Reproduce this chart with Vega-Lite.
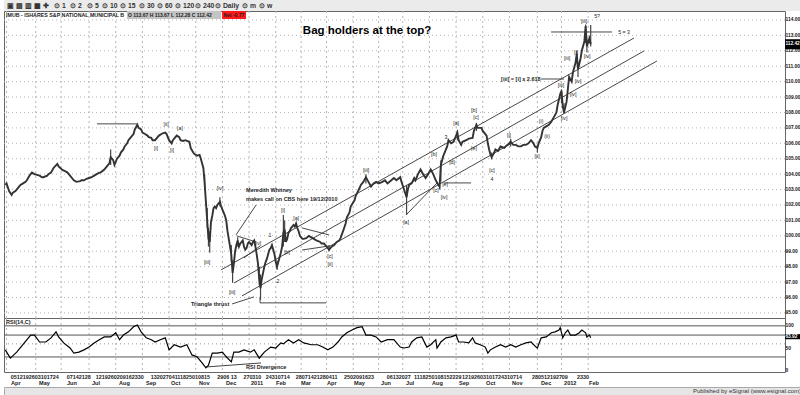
{
"$schema": "https://vega.github.io/schema/vega-lite/v6.json",
"padding": 0,
"spacing": 0,
"bounds": "flush",
"background": "white",
"config": {"view": {"stroke": null}, "text": {"font": "Liberation Sans"}, "axis": {"labelFont": "Liberation Sans"}},
"datasets": {
"toolbar": [{"pos":3,"t":"▣ ▤ ▥ ▦ ✚"},{"pos":50,"t":"⊙ 1"},{"pos":66,"t":"⊙ 2"},{"pos":83,"t":"⊙ 5"},{"pos":98,"t":"⊙ 10"},{"pos":116,"t":"⊙ 15"},{"pos":135,"t":"⊙ 30"},{"pos":153,"t":"⊙ 60"},{"pos":171,"t":"⊙ 120"},{"pos":191,"t":"⊙ 240"},{"pos":211,"t":"⊙ Daily"},{"pos":238,"t":"⊙ m"},{"pos":255,"t":"⊙ w"}],
"hgrid": [{"p":95},{"p":96},{"p":97},{"p":98},{"p":99},{"p":100},{"p":101},{"p":102},{"p":103},{"p":104},{"p":105},{"p":106},{"p":107},{"p":108},{"p":109},{"p":110},{"p":111},{"p":112},{"p":113},{"p":114}],
"vgrid": [{"d":2},{"d":25},{"d":45},{"d":67},{"d":88},{"d":109},{"d":130},{"d":151},{"d":172},{"d":193},{"d":214},{"d":234},{"d":254},{"d":275},{"d":295},{"d":314},{"d":335},{"d":356},{"d":377},{"d":398},{"d":420},{"d":439},{"d":460}],
"price": [{"d":1,"p":103.3},{"d":2,"p":103.4},{"d":4,"p":102.9},{"d":6,"p":102.65},{"d":7,"p":102.8},{"d":9,"p":102.9},{"d":10,"p":103.0},{"d":12,"p":103.2},{"d":13,"p":103.3},{"d":15,"p":103.4},{"d":17,"p":103.5},{"d":18,"p":103.6},{"d":20,"p":103.9},{"d":21,"p":104.0},{"d":22,"p":104.1},{"d":24,"p":104.0},{"d":26,"p":103.95},{"d":28,"p":103.9},{"d":30,"p":103.8},{"d":31,"p":103.8},{"d":34,"p":103.9},{"d":35,"p":104.0},{"d":37,"p":104.1},{"d":39,"p":104.4},{"d":42,"p":104.66},{"d":43,"p":104.5},{"d":46,"p":104.27},{"d":48,"p":104.2},{"d":50,"p":104.1},{"d":52,"p":103.9},{"d":54,"p":103.7},{"d":55,"p":103.6},{"d":57,"p":103.5},{"d":60,"p":103.55},{"d":61,"p":103.6},{"d":63,"p":103.6},{"d":65,"p":103.7},{"d":67,"p":103.75},{"d":69,"p":103.8},{"d":71,"p":103.9},{"d":73,"p":104.0},{"d":75,"p":104.1},{"d":76,"p":104.1},{"d":79,"p":104.3},{"d":81,"p":104.5},{"d":83,"p":104.7},{"d":84,"p":105.1},{"d":86,"p":104.9},{"d":87,"p":104.6},{"d":89,"p":105.0},{"d":91,"p":105.2},{"d":92,"p":105.4},{"d":94,"p":105.6},{"d":95,"p":105.8},{"d":97,"p":106.0},{"d":98,"p":106.2},{"d":100,"p":106.4},{"d":102,"p":106.6},{"d":103,"p":106.9},{"d":105,"p":107.2},{"d":106,"p":107.0},{"d":108,"p":106.9},{"d":109,"p":106.7},{"d":111,"p":106.6},{"d":113,"p":106.5},{"d":114,"p":106.4},{"d":116,"p":106.35},{"d":117,"p":106.2},{"d":119,"p":106.2},{"d":120,"p":106.3},{"d":122,"p":106.5},{"d":124,"p":106.6},{"d":125,"p":106.65},{"d":127,"p":106.7},{"d":128,"p":106.6},{"d":130,"p":106.2},{"d":132,"p":106.0},{"d":133,"p":106.2},{"d":135,"p":106.4},{"d":136,"p":106.5},{"d":138,"p":106.4},{"d":139,"p":106.2},{"d":141,"p":106.15},{"d":143,"p":106.2},{"d":144,"p":106.15},{"d":146,"p":106.1},{"d":147,"p":105.7},{"d":149,"p":105.4},{"d":150,"p":105.3},{"d":152,"p":105.2},{"d":154,"p":105.25},{"d":155,"p":105.0},{"d":157,"p":104.4},{"d":158,"p":103.4},{"d":159,"p":102.2},{"d":160,"p":101.0},{"d":161,"p":99.8},{"d":162,"p":99.6},{"d":163,"p":100.9},{"d":164,"p":101.3},{"d":165,"p":101.8},{"d":166,"p":101.9},{"d":167,"p":101.8},{"d":168,"p":102.0},{"d":169,"p":102.1},{"d":170,"p":102.2},{"d":171,"p":101.9},{"d":172,"p":101.7},{"d":173,"p":101.5},{"d":174,"p":101.3},{"d":175,"p":101.0},{"d":176,"p":100.3},{"d":177,"p":99.8},{"d":178,"p":99.3},{"d":179,"p":98.8},{"d":180,"p":97.6},{"d":181,"p":98.2},{"d":182,"p":99.0},{"d":183,"p":99.4},{"d":184,"p":99.7},{"d":185,"p":99.3},{"d":186,"p":99.5},{"d":187,"p":99.6},{"d":188,"p":99.7},{"d":189,"p":99.3},{"d":190,"p":99.1},{"d":191,"p":99.2},{"d":192,"p":99.5},{"d":193,"p":99.6},{"d":194,"p":99.5},{"d":195,"p":99.4},{"d":196,"p":99.6},{"d":197,"p":99.7},{"d":198,"p":99.3},{"d":199,"p":98.8},{"d":200,"p":98.2},{"d":201,"p":97.2},{"d":202,"p":96.6},{"d":203,"p":97.2},{"d":204,"p":97.6},{"d":205,"p":98.0},{"d":206,"p":98.3},{"d":207,"p":98.5},{"d":208,"p":98.8},{"d":209,"p":99.1},{"d":210,"p":99.2},{"d":211,"p":99.4},{"d":212,"p":99.1},{"d":213,"p":98.8},{"d":214,"p":98.3},{"d":215,"p":98.0},{"d":216,"p":98.3},{"d":217,"p":98.6},{"d":218,"p":98.9},{"d":219,"p":99.3},{"d":220,"p":100.2},{"d":221,"p":100.4},{"d":222,"p":99.6},{"d":223,"p":99.8},{"d":224,"p":100.2},{"d":225,"p":100.3},{"d":226,"p":100.5},{"d":227,"p":100.6},{"d":228,"p":100.7},{"d":229,"p":100.6},{"d":230,"p":100.8},{"d":231,"p":100.5},{"d":232,"p":100.3},{"d":233,"p":100.0},{"d":234,"p":99.9},{"d":235,"p":99.8},{"d":236,"p":99.8},{"d":238,"p":99.85},{"d":240,"p":100.0},{"d":242,"p":99.9},{"d":244,"p":99.8},{"d":246,"p":99.7},{"d":249,"p":99.6},{"d":250,"p":99.5},{"d":252,"p":99.5},{"d":254,"p":99.3},{"d":256,"p":99.1},{"d":258,"p":99.3},{"d":260,"p":99.4},{"d":262,"p":99.6},{"d":264,"p":99.7},{"d":265,"p":99.85},{"d":267,"p":100.3},{"d":269,"p":100.8},{"d":270,"p":101.2},{"d":272,"p":101.5},{"d":273,"p":101.9},{"d":276,"p":102.3},{"d":277,"p":102.6},{"d":280,"p":103.1},{"d":281,"p":103.3},{"d":283,"p":103.5},{"d":285,"p":103.8},{"d":287,"p":103.5},{"d":289,"p":103.2},{"d":291,"p":103.4},{"d":293,"p":103.5},{"d":295,"p":103.4},{"d":298,"p":103.5},{"d":300,"p":103.6},{"d":302,"p":103.4},{"d":305,"p":103.6},{"d":307,"p":103.75},{"d":309,"p":103.6},{"d":312,"p":103.8},{"d":313,"p":103.5},{"d":315,"p":103.0},{"d":317,"p":102.5},{"d":318,"p":103.0},{"d":319,"p":103.3},{"d":321,"p":103.4},{"d":323,"p":103.75},{"d":324,"p":103.6},{"d":326,"p":104.0},{"d":328,"p":104.3},{"d":330,"p":104.0},{"d":332,"p":103.75},{"d":334,"p":104.0},{"d":336,"p":104.3},{"d":338,"p":104.0},{"d":340,"p":103.6},{"d":342,"p":103.3},{"d":343,"p":103.2},{"d":344,"p":104.6},{"d":346,"p":105.2},{"d":347,"p":105.4},{"d":348,"p":105.6},{"d":349,"p":105.8},{"d":350,"p":106.2},{"d":352,"p":106.0},{"d":354,"p":106.1},{"d":356,"p":106.5},{"d":357,"p":106.7},{"d":358,"p":106.2},{"d":360,"p":105.9},{"d":361,"p":106.1},{"d":364,"p":106.2},{"d":366,"p":106.3},{"d":369,"p":106.35},{"d":370,"p":106.8},{"d":372,"p":107.2},{"d":373,"p":107.0},{"d":376,"p":107.0},{"d":377,"p":106.8},{"d":380,"p":106.5},{"d":381,"p":106.0},{"d":382,"p":105.6},{"d":383,"p":105.3},{"d":384,"p":105.1},{"d":386,"p":105.4},{"d":387,"p":105.6},{"d":389,"p":105.5},{"d":391,"p":105.8},{"d":394,"p":105.7},{"d":395,"p":105.8},{"d":398,"p":106.0},{"d":399,"p":106.1},{"d":401,"p":105.9},{"d":403,"p":105.9},{"d":405,"p":105.8},{"d":407,"p":105.8},{"d":409,"p":105.9},{"d":411,"p":105.9},{"d":413,"p":106.0},{"d":415,"p":106.2},{"d":417,"p":106.0},{"d":418,"p":105.8},{"d":420,"p":105.7},{"d":421,"p":106.0},{"d":423,"p":106.4},{"d":424,"p":106.8},{"d":425,"p":107.0},{"d":427,"p":107.1},{"d":429,"p":107.2},{"d":431,"p":107.4},{"d":433,"p":107.7},{"d":435,"p":108.0},{"d":436,"p":108.5},{"d":438,"p":109.2},{"d":439,"p":109.4},{"d":440,"p":108.4},{"d":441,"p":108.0},{"d":443,"p":108.7},{"d":444,"p":109.5},{"d":445,"p":110.3},{"d":447,"p":110.0},{"d":448,"p":110.6},{"d":450,"p":111.2},{"d":451,"p":111.8},{"d":452,"p":110.8},{"d":454,"p":111.5},{"d":455,"p":112.0},{"d":457,"p":112.6},{"d":458,"p":113.6},{"d":459,"p":112.3},{"d":461,"p":112.8},{"d":462,"p":112.42}],
"spikes": [{"d":84,"p":104.6,"p2":105.6},{"d":158,"p":103.0,"p2":104.0},{"d":160,"p":100.5,"p2":101.8},{"d":161,"p":99.3,"p2":100.5},{"d":162,"p":98.9,"p2":100.3},{"d":170,"p":101.9,"p2":102.5},{"d":179,"p":98.3,"p2":99.4},{"d":180,"p":96.95,"p2":98.4},{"d":184,"p":99.3,"p2":99.9},{"d":201,"p":96.8,"p2":98.0},{"d":202,"p":95.85,"p2":97.5},{"d":215,"p":97.8,"p2":98.4},{"d":220,"p":99.3,"p2":101.35},{"d":221,"p":99.6,"p2":101.0},{"d":256,"p":99.0,"p2":99.4},{"d":285,"p":103.4,"p2":104.0},{"d":317,"p":101.35,"p2":103.3},{"d":343,"p":103.0,"p2":103.6},{"d":344,"p":103.5,"p2":104.9},{"d":357,"p":106.2,"p2":106.85},{"d":372,"p":106.8,"p2":107.3},{"d":384,"p":104.95,"p2":105.4},{"d":399,"p":105.8,"p2":106.3},{"d":420,"p":105.4,"p2":105.9},{"d":439,"p":108.6,"p2":109.5},{"d":441,"p":107.9,"p2":108.6},{"d":451,"p":111.2,"p2":112.0},{"d":452,"p":110.3,"p2":111.2},{"d":458,"p":112.5,"p2":113.7},{"d":459,"p":111.9,"p2":112.8},{"d":462,"p":112.28,"p2":113.67}],
"segs": [{"d":73.2,"p":107.26,"d2":104.7,"p2":107.26},{"d":198.5,"p":102.0,"d2":182.7,"p2":100.06},{"d":179.6,"p":95.58,"d2":196.9,"p2":96.04},{"d":201.6,"p":95.65,"d2":253.6,"p2":95.65},{"d":201.6,"p":96.04,"d2":201.6,"p2":95.65},{"d":170.9,"p":97.79,"d2":496.1,"p2":112.83},{"d":181.1,"p":96.94,"d2":504,"p2":111.99},{"d":187.4,"p":96.1,"d2":514.2,"p2":111.34},{"d":422.9,"p":110.17,"d2":441,"p2":110.17},{"d":430.8,"p":113.22,"d2":478.8,"p2":113.22},{"d":316.6,"p":101.35,"d2":341,"p2":103.43},{"d":346.5,"p":103.43,"d2":367.8,"p2":103.43},{"d":183.5,"p":99.99,"d2":198.5,"p2":99.6},{"d":189,"p":98.57,"d2":201.6,"p2":99.34},{"d":234.7,"p":100.51,"d2":255.9,"p2":100.06},{"d":234.7,"p":99.08,"d2":255.9,"p2":99.34}],
"waves": [{"d":119.7,"p":105.7,"t":"[i]"},{"d":127.6,"p":107.26,"t":"[ii]"},{"d":132.3,"p":105.57,"t":"[i]"},{"d":138.6,"p":107.0,"t":"[a]"},{"d":170.1,"p":103.1,"t":"[iv]"},{"d":159.9,"p":98.31,"t":"[iii]"},{"d":179.6,"p":96.36,"t":"[iii]"},{"d":200,"p":99.54,"t":"[iv]"},{"d":209.5,"p":100.06,"t":"1"},{"d":215.8,"p":97.07,"t":"2"},{"d":219.7,"p":101.68,"t":"[i]"},{"d":230,"p":101.16,"t":"[a]"},{"d":222.9,"p":98.95,"t":"[b]"},{"d":256.7,"p":98.7,"t":"[c]"},{"d":256.7,"p":98.18,"t":"[ii]"},{"d":285.1,"p":104.27,"t":"[iii]"},{"d":316.6,"p":100.9,"t":"[a]"},{"d":338.6,"p":105.31,"t":"[b]"},{"d":340.2,"p":102.98,"t":"[c]"},{"d":347.3,"p":103.36,"t":"[e]"},{"d":346.5,"p":102.52,"t":"[iv]"},{"d":352.8,"p":104.79,"t":"[d]"},{"d":348.1,"p":106.41,"t":"3"},{"d":356,"p":107.32,"t":"[a]"},{"d":370.1,"p":108.16,"t":"[b]"},{"d":371.7,"p":107.71,"t":"[c]"},{"d":370.1,"p":105.7,"t":"[e]"},{"d":384.3,"p":104.27,"t":"[c]"},{"d":384.3,"p":103.69,"t":"4"},{"d":397.7,"p":106.54,"t":"[i]"},{"d":419.7,"p":105.18,"t":"[ii]"},{"d":422.9,"p":107.45,"t":"(i)"},{"d":427.6,"p":106.48,"t":"(ii)"},{"d":438.6,"p":109.78,"t":"[iii]"},{"d":441,"p":107.64,"t":"[iv]"},{"d":448.1,"p":109.2,"t":"[iv]"},{"d":443.4,"p":111.54,"t":"[iii]"},{"d":450.5,"p":111.92,"t":"[i]"},{"d":452,"p":110.04,"t":"[iv]"},{"d":459.1,"p":111.67,"t":"[iv]"},{"d":456.8,"p":113.94,"t":"[iii]"},{"d":467,"p":114.26,"t":"5?"},{"d":488.3,"p":113.22,"t":"5 = 3"}],
"notes": [{"d":190.6,"p":102.98,"t":"Meredith Whitney"},{"d":190.6,"p":102.39,"t":"makes call on CBS here 19/12/2010"},{"d":147.3,"p":95.58,"t":"Triangle thrust"},{"d":391.4,"p":110.17,"t":"[iii] = [i] x 2.618"}],
"rsi": [{"d":1,"v":48},{"d":5,"v":30},{"d":10,"v":43},{"d":16,"v":63},{"d":21,"v":80},{"d":24,"v":80},{"d":28,"v":65},{"d":33,"v":65},{"d":37,"v":74},{"d":41,"v":87},{"d":43,"v":76},{"d":47,"v":63},{"d":52,"v":52},{"d":55,"v":41},{"d":59,"v":43},{"d":63,"v":48},{"d":67,"v":54},{"d":71,"v":63},{"d":75,"v":70},{"d":79,"v":76},{"d":84,"v":76},{"d":88,"v":85},{"d":91,"v":70},{"d":94,"v":80},{"d":98,"v":87},{"d":102,"v":98},{"d":105,"v":102},{"d":108,"v":87},{"d":112,"v":74},{"d":116,"v":70},{"d":119,"v":65},{"d":123,"v":70},{"d":127,"v":74},{"d":130,"v":48},{"d":134,"v":59},{"d":139,"v":54},{"d":144,"v":59},{"d":148,"v":37},{"d":152,"v":33},{"d":156,"v":20},{"d":159,"v":9},{"d":161,"v":15},{"d":164,"v":41},{"d":168,"v":41},{"d":172,"v":43},{"d":175,"v":33},{"d":179,"v":22},{"d":181,"v":43},{"d":185,"v":43},{"d":189,"v":48},{"d":194,"v":43},{"d":197,"v":48},{"d":201,"v":30},{"d":205,"v":43},{"d":210,"v":54},{"d":214,"v":52},{"d":218,"v":63},{"d":220,"v":61},{"d":224,"v":70},{"d":228,"v":63},{"d":232,"v":70},{"d":236,"v":63},{"d":242,"v":59},{"d":247,"v":59},{"d":251,"v":54},{"d":255,"v":48},{"d":259,"v":54},{"d":263,"v":65},{"d":266,"v":76},{"d":270,"v":85},{"d":274,"v":91},{"d":278,"v":96},{"d":282,"v":98},{"d":285,"v":80},{"d":289,"v":80},{"d":293,"v":76},{"d":297,"v":65},{"d":302,"v":70},{"d":307,"v":70},{"d":312,"v":54},{"d":315,"v":52},{"d":319,"v":54},{"d":321,"v":65},{"d":325,"v":74},{"d":329,"v":76},{"d":333,"v":54},{"d":336,"v":59},{"d":340,"v":70},{"d":341,"v":52},{"d":344,"v":65},{"d":348,"v":74},{"d":352,"v":76},{"d":356,"v":80},{"d":358,"v":65},{"d":362,"v":65},{"d":366,"v":63},{"d":369,"v":74},{"d":371,"v":63},{"d":375,"v":59},{"d":379,"v":54},{"d":381,"v":41},{"d":383,"v":48},{"d":387,"v":54},{"d":391,"v":59},{"d":395,"v":54},{"d":399,"v":59},{"d":403,"v":54},{"d":407,"v":59},{"d":411,"v":63},{"d":415,"v":65},{"d":419,"v":54},{"d":420,"v":52},{"d":423,"v":74},{"d":427,"v":76},{"d":431,"v":85},{"d":434,"v":87},{"d":437,"v":91},{"d":438,"v":96},{"d":440,"v":74},{"d":442,"v":85},{"d":444,"v":91},{"d":446,"v":80},{"d":450,"v":80},{"d":453,"v":85},{"d":455,"v":91},{"d":458,"v":85},{"d":459,"v":76},{"d":461,"v":80},{"d":462,"v":74}],
"dlab": [{"d":5.3,"t":"0512192603101724"},{"d":49.4,"t":"07142128"},{"d":72.2,"t":"1219260209162330"},{"d":115.5,"t":"13202704111825010815"},{"d":168,"t":"2906 13"},{"d":188.5,"t":"270310"},{"d":206.1,"t":"24310714"},{"d":229.7,"t":"28071421280411"},{"d":267.8,"t":"2502091623"},{"d":301.4,"t":"06132027"},{"d":322.9,"t":"1118250108152229"},{"d":360.7,"t":"12192603101724310714"},{"d":415.8,"t":"2805121927"},{"d":439.2,"t":"09"},{"d":451.2,"t":"2330"}],
"mlab": [{"d":5.5,"t":"Apr"},{"d":27.6,"t":"May"},{"d":49.6,"t":"Jun"},{"d":69.3,"t":"Jul"},{"d":90.6,"t":"Aug"},{"d":111.8,"t":"Sep"},{"d":131.5,"t":"Oct"},{"d":153.6,"t":"Nov"},{"d":174.8,"t":"Dec"},{"d":194.5,"t":"2011"},{"d":214.2,"t":"Feb"},{"d":233.9,"t":"Mar"},{"d":254.4,"t":"Apr"},{"d":275.6,"t":"May"},{"d":296.9,"t":"Jun"},{"d":316.6,"t":"Jul"},{"d":337,"t":"Aug"},{"d":358.3,"t":"Sep"},{"d":379.6,"t":"Oct"},{"d":400,"t":"Nov"},{"d":422.9,"t":"Dec"},{"d":441,"t":"2012"},{"d":460.7,"t":"Feb"}]
},
"vconcat": [
{
 "width": 800, "height": 11,
 "view": {"fill": "#ebebeb", "stroke": null},
 "data": {"name": "toolbar"},
 "mark": {"type": "text", "align": "left", "baseline": "middle", "fontSize": 6.8, "fontWeight": "bold", "color": "#333"},
 "encoding": {
  "x": {"field": "pos", "type": "quantitative", "scale": {"domain": [0, 800], "nice": false, "zero": false}, "axis": null},
  "text": {"field": "t"}
 }
},
{
 "width": 781, "height": 307,
 "view": {"stroke": "#666", "strokeWidth": 1},
 "layer": [
  {"data": {"name": "hgrid"}, "mark": {"type": "rule", "color": "#b5b5b5", "strokeDash": [1, 3]},
   "encoding": {"y": {"field": "p", "type": "quantitative", "scale": {"domain": [94.67, 114.58], "zero": false, "nice": false}, "axis": {"orient": "right", "values": [95,96,97,98,99,100,101,102,103,104,105,106,107,108,109,110,111,112,113,114], "format": ".2f", "title": null, "grid": false, "ticks": false, "domain": false, "labelPadding": 0, "labelFontSize": 4.9, "labelFontWeight": "bold", "labelColor": "#111"}}}},
  {"data": {"name": "vgrid"}, "mark": {"type": "rule", "color": "#b5b5b5", "strokeDash": [2, 3]},
   "encoding": {"x": {"field": "d", "type": "quantitative", "scale": {"domain": [0, 615], "zero": false, "nice": false}, "axis": null}}},
  {"data": {"values": [{"d": 1.6, "p": 114.32, "t": "IMUB - ISHARES S&P NATIONAL MUNICIPAL B"}]},
   "mark": {"type": "text", "align": "left", "baseline": "middle", "fontSize": 5.3, "fontWeight": "bold", "color": "#222"},
   "encoding": {"x": {"field": "d", "type": "quantitative", "scale": {"domain": [0, 615], "zero": false, "nice": false}, "axis": null},
    "y": {"field": "p", "type": "quantitative", "scale": {"domain": [94.67, 114.58], "zero": false, "nice": false}, "axis": {"orient": "right", "values": [95,96,97,98,99,100,101,102,103,104,105,106,107,108,109,110,111,112,113,114], "format": ".2f", "title": null, "grid": false, "ticks": false, "domain": false, "labelPadding": 0, "labelFontSize": 4.9, "labelFontWeight": "bold", "labelColor": "#111"}}, "text": {"field": "t"}}},
  {"data": {"values": [{"d": 96.8, "d2": 170.9, "p": 114.06, "p2": 114.58}]}, "mark": {"type": "rect", "color": "#c4c4c4"},
   "encoding": {"x": {"field": "d", "type": "quantitative", "scale": {"domain": [0, 615], "zero": false, "nice": false}, "axis": null}, "x2": {"field": "d2"},
    "y": {"field": "p", "type": "quantitative", "scale": {"domain": [94.67, 114.58], "zero": false, "nice": false}, "axis": {"orient": "right", "values": [95,96,97,98,99,100,101,102,103,104,105,106,107,108,109,110,111,112,113,114], "format": ".2f", "title": null, "grid": false, "ticks": false, "domain": false, "labelPadding": 0, "labelFontSize": 4.9, "labelFontWeight": "bold", "labelColor": "#111"}}, "y2": {"field": "p2"}}},
  {"data": {"values": [{"d": 171.7, "d2": 190.6, "p": 114.06, "p2": 114.58}]}, "mark": {"type": "rect", "color": "#ff1a1a"},
   "encoding": {"x": {"field": "d", "type": "quantitative", "scale": {"domain": [0, 615], "zero": false, "nice": false}, "axis": null}, "x2": {"field": "d2"},
    "y": {"field": "p", "type": "quantitative", "scale": {"domain": [94.67, 114.58], "zero": false, "nice": false}, "axis": {"orient": "right", "values": [95,96,97,98,99,100,101,102,103,104,105,106,107,108,109,110,111,112,113,114], "format": ".2f", "title": null, "grid": false, "ticks": false, "domain": false, "labelPadding": 0, "labelFontSize": 4.9, "labelFontWeight": "bold", "labelColor": "#111"}}, "y2": {"field": "p2"}}},
  {"data": {"values": [{"d": 97.6, "p": 114.32, "t": "O  113.67    H  113.67    L  112.28    C  112.42"}, {"d": 172.8, "p": 114.32, "t": "Net  -0.77"}]},
   "mark": {"type": "text", "align": "left", "baseline": "middle", "fontSize": 5, "fontWeight": "bold", "color": "#222"},
   "encoding": {"x": {"field": "d", "type": "quantitative", "scale": {"domain": [0, 615], "zero": false, "nice": false}, "axis": null},
    "y": {"field": "p", "type": "quantitative", "scale": {"domain": [94.67, 114.58], "zero": false, "nice": false}, "axis": {"orient": "right", "values": [95,96,97,98,99,100,101,102,103,104,105,106,107,108,109,110,111,112,113,114], "format": ".2f", "title": null, "grid": false, "ticks": false, "domain": false, "labelPadding": 0, "labelFontSize": 4.9, "labelFontWeight": "bold", "labelColor": "#111"}}, "text": {"field": "t"}}},
  {"data": {"name": "segs"}, "mark": {"type": "rule", "color": "#333", "strokeWidth": 0.9},
   "encoding": {"x": {"field": "d", "type": "quantitative", "scale": {"domain": [0, 615], "zero": false, "nice": false}, "axis": null}, "x2": {"field": "d2"},
    "y": {"field": "p", "type": "quantitative", "scale": {"domain": [94.67, 114.58], "zero": false, "nice": false}, "axis": {"orient": "right", "values": [95,96,97,98,99,100,101,102,103,104,105,106,107,108,109,110,111,112,113,114], "format": ".2f", "title": null, "grid": false, "ticks": false, "domain": false, "labelPadding": 0, "labelFontSize": 4.9, "labelFontWeight": "bold", "labelColor": "#111"}}, "y2": {"field": "p2"}}},
  {"data": {"name": "spikes"}, "mark": {"type": "rule", "color": "#444", "strokeWidth": 1.2},
   "encoding": {"x": {"field": "d", "type": "quantitative", "scale": {"domain": [0, 615], "zero": false, "nice": false}, "axis": null},
    "y": {"field": "p", "type": "quantitative", "scale": {"domain": [94.67, 114.58], "zero": false, "nice": false}, "axis": {"orient": "right", "values": [95,96,97,98,99,100,101,102,103,104,105,106,107,108,109,110,111,112,113,114], "format": ".2f", "title": null, "grid": false, "ticks": false, "domain": false, "labelPadding": 0, "labelFontSize": 4.9, "labelFontWeight": "bold", "labelColor": "#111"}}, "y2": {"field": "p2"}}},
  {"data": {"name": "price"}, "mark": {"type": "line", "color": "#333", "strokeWidth": 1.9},
   "encoding": {"x": {"field": "d", "type": "quantitative", "scale": {"domain": [0, 615], "zero": false, "nice": false}, "axis": null},
    "y": {"field": "p", "type": "quantitative", "scale": {"domain": [94.67, 114.58], "zero": false, "nice": false}, "axis": {"orient": "right", "values": [95,96,97,98,99,100,101,102,103,104,105,106,107,108,109,110,111,112,113,114], "format": ".2f", "title": null, "grid": false, "ticks": false, "domain": false, "labelPadding": 0, "labelFontSize": 4.9, "labelFontWeight": "bold", "labelColor": "#111"}}}},
  {"data": {"name": "waves"}, "mark": {"type": "text", "align": "center", "baseline": "middle", "fontSize": 5.2, "color": "#222"},
   "encoding": {"x": {"field": "d", "type": "quantitative", "scale": {"domain": [0, 615], "zero": false, "nice": false}, "axis": null},
    "y": {"field": "p", "type": "quantitative", "scale": {"domain": [94.67, 114.58], "zero": false, "nice": false}, "axis": {"orient": "right", "values": [95,96,97,98,99,100,101,102,103,104,105,106,107,108,109,110,111,112,113,114], "format": ".2f", "title": null, "grid": false, "ticks": false, "domain": false, "labelPadding": 0, "labelFontSize": 4.9, "labelFontWeight": "bold", "labelColor": "#111"}}, "text": {"field": "t"}}},
  {"data": {"name": "notes"}, "mark": {"type": "text", "align": "left", "baseline": "middle", "fontSize": 5.5, "fontWeight": "bold", "color": "#222"},
   "encoding": {"x": {"field": "d", "type": "quantitative", "scale": {"domain": [0, 615], "zero": false, "nice": false}, "axis": null},
    "y": {"field": "p", "type": "quantitative", "scale": {"domain": [94.67, 114.58], "zero": false, "nice": false}, "axis": {"orient": "right", "values": [95,96,97,98,99,100,101,102,103,104,105,106,107,108,109,110,111,112,113,114], "format": ".2f", "title": null, "grid": false, "ticks": false, "domain": false, "labelPadding": 0, "labelFontSize": 4.9, "labelFontWeight": "bold", "labelColor": "#111"}}, "text": {"field": "t"}}},
  {"data": {"values": [{"d": 285.9, "p": 113.29, "t": "Bag holders at the top?"}]}, "mark": {"type": "text", "align": "center", "baseline": "middle", "fontSize": 11.5, "fontWeight": "bold", "color": "#000"},
   "encoding": {"x": {"field": "d", "type": "quantitative", "scale": {"domain": [0, 615], "zero": false, "nice": false}, "axis": null},
    "y": {"field": "p", "type": "quantitative", "scale": {"domain": [94.67, 114.58], "zero": false, "nice": false}, "axis": {"orient": "right", "values": [95,96,97,98,99,100,101,102,103,104,105,106,107,108,109,110,111,112,113,114], "format": ".2f", "title": null, "grid": false, "ticks": false, "domain": false, "labelPadding": 0, "labelFontSize": 4.9, "labelFontWeight": "bold", "labelColor": "#111"}}, "text": {"field": "t"}}},
  {"data": {"values": [{"d": 615, "d2": 630, "p": 112.1, "p2": 112.75}]}, "mark": {"type": "rect", "color": "#000"},
   "encoding": {"x": {"field": "d", "type": "quantitative", "scale": {"domain": [0, 615], "zero": false, "nice": false}, "axis": null}, "x2": {"field": "d2"},
    "y": {"field": "p", "type": "quantitative", "scale": {"domain": [94.67, 114.58], "zero": false, "nice": false}, "axis": {"orient": "right", "values": [95,96,97,98,99,100,101,102,103,104,105,106,107,108,109,110,111,112,113,114], "format": ".2f", "title": null, "grid": false, "ticks": false, "domain": false, "labelPadding": 0, "labelFontSize": 4.9, "labelFontWeight": "bold", "labelColor": "#111"}}, "y2": {"field": "p2"}}},
  {"data": {"values": [{"d": 615.3, "p": 112.42, "t": "112.42"}]}, "mark": {"type": "text", "align": "left", "baseline": "middle", "fontSize": 4.8, "fontWeight": "bold", "color": "#fff"},
   "encoding": {"x": {"field": "d", "type": "quantitative", "scale": {"domain": [0, 615], "zero": false, "nice": false}, "axis": null},
    "y": {"field": "p", "type": "quantitative", "scale": {"domain": [94.67, 114.58], "zero": false, "nice": false}, "axis": {"orient": "right", "values": [95,96,97,98,99,100,101,102,103,104,105,106,107,108,109,110,111,112,113,114], "format": ".2f", "title": null, "grid": false, "ticks": false, "domain": false, "labelPadding": 0, "labelFontSize": 4.9, "labelFontWeight": "bold", "labelColor": "#111"}}, "text": {"field": "t"}}}
 ]
},
{
 "width": 781, "height": 54,
 "view": {"stroke": "#666", "strokeWidth": 1},
 "layer": [
  {"data": {"name": "vgrid"}, "mark": {"type": "rule", "color": "#b5b5b5", "strokeDash": [2, 3]},
   "encoding": {"x": {"field": "d", "type": "quantitative", "scale": {"domain": [0, 615], "zero": false, "nice": false}, "axis": null}}},
  {"data": {"values": [{"v": 100}, {"v": 80}, {"v": 32.6}]}, "mark": {"type": "rule", "color": "#555"},
   "encoding": {"y": {"field": "v", "type": "quantitative", "scale": {"domain": [0, 117], "zero": false, "nice": false}, "axis": {"orient": "right", "values": [0, 50, 100], "title": null, "grid": false, "ticks": false, "domain": false, "labelPadding": 0, "labelFlush": true, "labelFontSize": 4.9, "labelFontWeight": "bold", "labelColor": "#111"}}}},
  {"data": {"values": [{"v": 61}]}, "mark": {"type": "rule", "color": "#999", "strokeDash": [1, 3]},
   "encoding": {"y": {"field": "v", "type": "quantitative", "scale": {"domain": [0, 117], "zero": false, "nice": false}, "axis": {"orient": "right", "values": [0, 50, 100], "title": null, "grid": false, "ticks": false, "domain": false, "labelPadding": 0, "labelFlush": true, "labelFontSize": 4.9, "labelFontWeight": "bold", "labelColor": "#111"}}}},
  {"data": {"values": [{"d": 159.1, "v": 10.9, "d2": 202.4, "v2": 19.6}]}, "mark": {"type": "rule", "color": "#444"},
   "encoding": {"x": {"field": "d", "type": "quantitative", "scale": {"domain": [0, 615], "zero": false, "nice": false}, "axis": null}, "x2": {"field": "d2"},
    "y": {"field": "v", "type": "quantitative", "scale": {"domain": [0, 117], "zero": false, "nice": false}, "axis": {"orient": "right", "values": [0, 50, 100], "title": null, "grid": false, "ticks": false, "domain": false, "labelPadding": 0, "labelFlush": true, "labelFontSize": 4.9, "labelFontWeight": "bold", "labelColor": "#111"}}, "y2": {"field": "v2"}}},
  {"data": {"name": "rsi"}, "mark": {"type": "line", "color": "#000", "strokeWidth": 1.2},
   "encoding": {"x": {"field": "d", "type": "quantitative", "scale": {"domain": [0, 615], "zero": false, "nice": false}, "axis": null},
    "y": {"field": "v", "type": "quantitative", "scale": {"domain": [0, 117], "zero": false, "nice": false}, "axis": {"orient": "right", "values": [0, 50, 100], "title": null, "grid": false, "ticks": false, "domain": false, "labelPadding": 0, "labelFlush": true, "labelFontSize": 4.9, "labelFontWeight": "bold", "labelColor": "#111"}}}},
  {"data": {"values": [{"d": 1.6, "v": 108, "t": "RSI(14,C)"}, {"d": 190.6, "v": 10.5, "t": "RSI Divergence"}]}, "mark": {"type": "text", "align": "left", "baseline": "middle", "fontSize": 5.5, "fontWeight": "bold", "color": "#222"},
   "encoding": {"x": {"field": "d", "type": "quantitative", "scale": {"domain": [0, 615], "zero": false, "nice": false}, "axis": null},
    "y": {"field": "v", "type": "quantitative", "scale": {"domain": [0, 117], "zero": false, "nice": false}, "axis": {"orient": "right", "values": [0, 50, 100], "title": null, "grid": false, "ticks": false, "domain": false, "labelPadding": 0, "labelFlush": true, "labelFontSize": 4.9, "labelFontWeight": "bold", "labelColor": "#111"}}, "text": {"field": "t"}}},
  {"data": {"values": [{"d": 615, "d2": 630, "v": 71, "v2": 82}]}, "mark": {"type": "rect", "color": "#000"},
   "encoding": {"x": {"field": "d", "type": "quantitative", "scale": {"domain": [0, 615], "zero": false, "nice": false}, "axis": null}, "x2": {"field": "d2"},
    "y": {"field": "v", "type": "quantitative", "scale": {"domain": [0, 117], "zero": false, "nice": false}, "axis": {"orient": "right", "values": [0, 50, 100], "title": null, "grid": false, "ticks": false, "domain": false, "labelPadding": 0, "labelFlush": true, "labelFontSize": 4.9, "labelFontWeight": "bold", "labelColor": "#111"}}, "y2": {"field": "v2"}}},
  {"data": {"values": [{"d": 615.3, "v": 76.5, "t": "63.92"}]}, "mark": {"type": "text", "align": "left", "baseline": "middle", "fontSize": 4.8, "fontWeight": "bold", "color": "#fff"},
   "encoding": {"x": {"field": "d", "type": "quantitative", "scale": {"domain": [0, 615], "zero": false, "nice": false}, "axis": null},
    "y": {"field": "v", "type": "quantitative", "scale": {"domain": [0, 117], "zero": false, "nice": false}, "axis": {"orient": "right", "values": [0, 50, 100], "title": null, "grid": false, "ticks": false, "domain": false, "labelPadding": 0, "labelFlush": true, "labelFontSize": 4.9, "labelFontWeight": "bold", "labelColor": "#111"}}, "text": {"field": "t"}}}
 ]
},
{
 "width": 781, "height": 15,
 "layer": [
  {"data": {"name": "dlab"}, "mark": {"type": "text", "align": "left", "baseline": "middle", "fontSize": 5.4, "fontWeight": "bold", "color": "#222"},
   "encoding": {
    "x": {"field": "d", "type": "quantitative", "scale": {"domain": [0, 615], "zero": false, "nice": false}, "axis": null},
    "y": {"datum": 2.1, "type": "quantitative", "scale": {"domain": [0, 3], "nice": false, "zero": false}, "axis": null},
    "text": {"field": "t"}}},
  {"data": {"name": "mlab"}, "mark": {"type": "text", "align": "left", "baseline": "middle", "fontSize": 5.6, "fontWeight": "bold", "color": "#222"},
   "encoding": {
    "x": {"field": "d", "type": "quantitative", "scale": {"domain": [0, 615], "zero": false, "nice": false}, "axis": null},
    "y": {"datum": 0.85, "type": "quantitative", "scale": {"domain": [0, 3], "nice": false, "zero": false}, "axis": null},
    "text": {"field": "t"}}}
 ]
},
{
 "width": 800, "height": 8,
 "view": {"fill": "#e6e6e6", "stroke": "#aaa"},
 "data": {"values": [{"pos": 797, "t": "Published by eSignal (www.esignal.com)"}]},
 "mark": {"type": "text", "align": "right", "baseline": "middle", "fontSize": 6, "color": "#333"},
 "encoding": {
  "x": {"field": "pos", "type": "quantitative", "scale": {"domain": [0, 800], "nice": false, "zero": false}, "axis": null},
  "text": {"field": "t"}
 }
}
]
}
